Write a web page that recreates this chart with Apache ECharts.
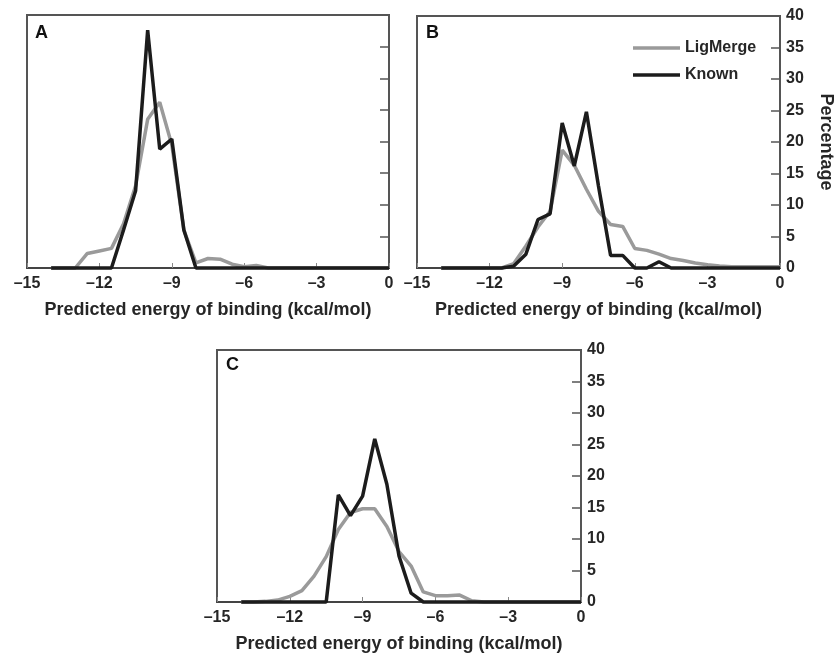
<!DOCTYPE html>
<html>
<head>
<meta charset="utf-8">
<script src="https://cdn.jsdelivr.net/npm/echarts@6/dist/echarts.min.js"></script>
<style>
  html, body { margin: 0; padding: 0; background: #fff; }
  #chart { width: 836px; height: 655px; }
</style>
</head>
<body>
<div id="chart"></div>
<script>
// Energy bins (kcal/mol)
const energyBins = [-14, -13.5, -13, -12.5, -12, -11.5, -11, -10.5, -10, -9.5, -9, -8.5, -8, -7.5, -7, -6.5, -6, -5.5, -5, -4.5, -4, -3.5, -3, -2.5, -2, -1.5, -1, -0.5, 0];

// Panel A
const ligMergeA = [0, 0, 0, 2.3, 2.7, 3.1, 7, 13, 23.5, 26.2, 19.5, 6, 0.8, 1.5, 1.4, 0.6, 0.2, 0.4, 0, 0, 0, 0, 0, 0, 0, 0, 0, 0, 0];
const knownA    = [0, 0, 0, 0, 0, 0, 6, 12.2, 37.6, 18.8, 20.4, 6, 0, 0, 0, 0, 0, 0, 0, 0, 0, 0, 0, 0, 0, 0, 0, 0, 0];

// Panel B
const ligMergeB = [0, 0, 0, 0, 0, 0, 0.7, 3.5, 6.5, 9, 18.7, 16.3, 12.5, 9, 6.9, 6.6, 3.1, 2.8, 2.2, 1.5, 1.2, 0.8, 0.5, 0.3, 0.2, 0.2, 0.2, 0.2, 0.2];
const knownB    = [0, 0, 0, 0, 0, 0, 0.3, 2.2, 7.7, 8.6, 23, 16.2, 24.8, 13, 2, 2, 0, 0, 1, 0, 0, 0, 0, 0, 0, 0, 0, 0, 0];

// Panel C
const ligMergeC = [0, 0, 0.1, 0.3, 0.9, 1.8, 4.1, 7.2, 11.5, 14.2, 14.8, 14.8, 12, 8, 5.7, 1.6, 1.0, 1.0, 1.1, 0.2, 0, 0, 0, 0, 0, 0, 0, 0, 0];
const knownC    = [0, 0, 0, 0, 0, 0, 0, 0, 17, 13.7, 16.8, 25.9, 18.7, 7.3, 1.4, 0, 0, 0, 0, 0, 0, 0, 0, 0, 0, 0, 0, 0, 0];

// Axis ticks
const xTicks = { min: -15, max: 0, interval: 3 };
const yTicks = { min: 0, max: 40, interval: 5 };

const panelLetters = ['A', 'B', 'C'];
const seriesNames = ['LigMerge', 'Known'];
const xTitle = 'Predicted energy of binding (kcal/mol)';
const yTitle = 'Percentage';

const GRAY = '#9a9a9a';
const BLACK = '#1c1c1c';
const TEXT = '#262626';
const FONT = 'Liberation Sans, Arial, sans-serif';

function pairs(ys) { return energyBins.map((x, i) => [x, ys[i]]); }

const grids = [
  { left: 27, top: 15, width: 362, height: 253 },
  { left: 417, top: 16, width: 364, height: 252 },
  { left: 217, top: 350, width: 364, height: 252 }
];

const xAxes = grids.map((g, i) => ({
  type: 'value', gridIndex: i,
  min: xTicks.min, max: xTicks.max, interval: xTicks.interval,
  name: xTitle, nameLocation: 'middle', nameGap: 33,
  nameTextStyle: { fontFamily: FONT, fontWeight: 'bold', fontSize: 18, color: TEXT },
  axisLine: { show: true, onZero: false, lineStyle: { color: '#444', width: 2 } },
  axisTick: { show: true, inside: true, length: 5, lineStyle: { color: '#888', width: 1 } },
  axisLabel: {
    margin: 8, fontFamily: FONT, fontWeight: 'bold', fontSize: 16, color: TEXT,
    formatter: v => v < 0 ? '\u2013' + Math.abs(v) : String(v)
  },
  splitLine: { show: false }
}));

const yAxes = grids.map((g, i) => ({
  type: 'value', gridIndex: i, position: 'right',
  min: yTicks.min, max: yTicks.max, interval: yTicks.interval,
  name: i === 1 ? yTitle : '', nameLocation: 'middle', nameRotate: -90, nameGap: 37,
  nameTextStyle: { fontFamily: FONT, fontWeight: 'bold', fontSize: 18, color: TEXT },
  axisLine: { show: true, lineStyle: { color: '#555', width: 2 } },
  axisTick: { show: true, inside: true, length: 9, lineStyle: { color: '#555', width: 1.5 } },
  axisLabel: {
    show: i !== 0, margin: 6, fontFamily: FONT, fontWeight: 'bold', fontSize: 16, color: TEXT
  },
  splitLine: { show: false }
}));

const panelData = [
  [ligMergeA, knownA],
  [ligMergeB, knownB],
  [ligMergeC, knownC]
];

const series = [];
panelData.forEach((pd, i) => {
  series.push({
    name: seriesNames[0], type: 'line', xAxisIndex: i, yAxisIndex: i,
    data: pairs(pd[0]), showSymbol: false, symbol: 'none',
    lineStyle: { color: GRAY, width: 3.5 }, itemStyle: { color: GRAY }, z: 2,
    clip: false
  });
  series.push({
    name: seriesNames[1], type: 'line', xAxisIndex: i, yAxisIndex: i,
    data: pairs(pd[1]), showSymbol: false, symbol: 'none',
    lineStyle: { color: BLACK, width: 3.5 }, itemStyle: { color: BLACK }, z: 3,
    clip: false
  });
});

const titles = [
  { text: panelLetters[0], left: 35, top: 24 },
  { text: panelLetters[1], left: 426, top: 24 },
  { text: panelLetters[2], left: 226, top: 356 }
].map(t => Object.assign(t, {
  padding: 0,
  textStyle: { fontFamily: FONT, fontWeight: 'bold', fontSize: 18, color: '#111' }
}));

const chart = echarts.init(document.getElementById('chart'), null, { renderer: 'canvas' });
chart.setOption({
  animation: false,
  backgroundColor: '#fff',
  title: titles,
  legend: {
    data: seriesNames, orient: 'vertical', left: 628, top: 34,
    icon: 'rect', itemWidth: 47, itemHeight: 3.5, itemGap: 9,
    textStyle: { fontFamily: FONT, fontWeight: 'bold', fontSize: 16, color: TEXT, lineHeight: 18 },
    selectedMode: false
  },
  grid: grids.map(g => Object.assign({}, g, { show: true, borderColor: '#555', borderWidth: 2, backgroundColor: 'transparent' })),
  xAxis: xAxes,
  yAxis: yAxes,
  series: series
});
</script>
</body>
</html>
